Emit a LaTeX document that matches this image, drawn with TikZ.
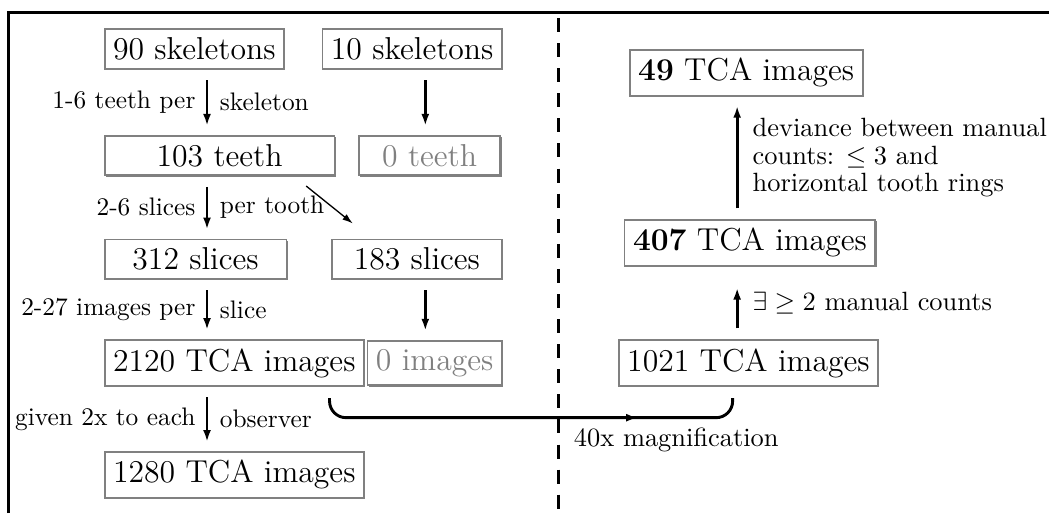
\documentclass[tikz,border=0pt]{standalone}
\usepackage{amsmath,amssymb}
\usepackage{tikz}
\usetikzlibrary{arrows.meta, positioning, calc, shadows, decorations.markings}

\begin{document}
\begin{tikzpicture}[font=\normalsize,
    stagebox/.style={draw=gray, line width=0.7pt, fill=white, inner sep=3.2pt, font=\large,
        drop shadow={shadow xshift=0.5pt, shadow yshift=-0.5pt, fill=gray, opacity=1}},
    emptybox/.style={stagebox, text=gray},
    steplabel/.style={font=\fontsize{9.6pt}{11pt}\selectfont},
    flow/.style={-{Latex[length=4.5pt,width=3pt]}, line width=1.1pt, shorten <=0.14cm, shorten >=0.12cm}]
    \useasboundingbox (0,0) rectangle (13.96,6.83);
    % frame and dashed split
    \draw[line width=1.1pt] (0.11,0) -- (0.11,6.66) -- (13.96,6.66);
    \draw[line width=1pt, dash pattern=on 5.3pt off 4.2pt] (7.43,6.59) -- (7.43,0);
    % left half
    \node[stagebox, anchor=west] (sk90) at (1.38,6.18) {90 skeletons};
    \node[stagebox, anchor=east] (sk10) at (6.69,6.18) {10 skeletons};
    \node[stagebox, anchor=west, minimum width=3.06cm] (teeth103) at (1.38,4.76) {103 teeth};
    \node[emptybox, anchor=east, minimum width=1.88cm] (teeth0) at (6.67,4.76) {0 teeth};
    \node[stagebox, anchor=west, minimum width=2.42cm] (slices312) at (1.38,3.38) {312 slices};
    \node[stagebox, anchor=east, minimum width=2.26cm] (slices183) at (6.69,3.38) {183 slices};
    \node[stagebox, anchor=west] (img2120) at (1.38,2.0) {2120 TCA images};
    \node[emptybox, anchor=east] (img0) at (6.69,2.0) {0 images};
    \node[stagebox, anchor=west] (img1280) at (1.38,0.51) {1280 TCA images};
    \coordinate (colL) at (2.755,0);
    \coordinate (colR) at (5.66,0);
    \draw[flow] (sk90.south -| colL) -- node[steplabel, left=0.5pt]{1-6 teeth per} node[steplabel, right=1pt]{skeleton} (teeth103.north -| colL);
    \draw[flow] (teeth103.south -| colL) -- node[steplabel, left=0.5pt]{2-6 slices} node[steplabel, right=1pt]{per tooth} (slices312.north -| colL);
    \draw[flow] (slices312.south -| colL) -- node[steplabel, left=0.5pt]{2-27 images per} node[steplabel, right=1pt]{slice} (img2120.north -| colL);
    \draw[flow] (img2120.south -| colL) -- node[steplabel, left=0.5pt]{given 2x to each} node[steplabel, right=1pt]{observer} (img1280.north -| colL);
    \draw[flow] (sk10.south -| colR) -- (teeth0.north -| colR);
    \draw[flow] (slices183.south -| colR) -- (img0.north -| colR);
    \draw[-{Latex[length=4pt,width=2.6pt]}, line width=0.5pt]
        ($(teeth103.south east)+(-0.39,-0.13)$) -- ($(slices183.north west)+(0.29,0.2)$);
    % right half
    \node[stagebox] (img49) at (9.93,5.86) {\textbf{49} TCA images};
    \node[stagebox] (img407) at (9.98,3.60) {\textbf{407} TCA images};
    \node[stagebox] (img1021) at (9.96,2.0) {1021 TCA images};
    \coordinate (colX) at (9.81,0);
    \draw[flow, shorten >=0.28cm] (img1021.north -| colX) -- node[right=2pt]{$\exists \geq 2$ manual counts} (img407.south -| colX);
    \draw[flow] (img407.north -| colX) -- node[right=2pt, align=left]{deviance between manual\\[-1.6pt]counts: $\leq 3$ and\\[-1.6pt]horizontal tooth rings} (img49.south -| colX);
    % across the split
    \draw[line width=1.1pt, rounded corners=0.22cm, postaction={decorate},
        decoration={markings, mark=at position 0.75 with {\arrow{Latex[length=4.5pt,width=3pt]}}}]
        ($(img2120.south east)+(-0.47,-0.15)$) -- ++(0,-0.26)
        -| node[pos=0.43, below]{40x magnification} ($(img1021.south)+(-0.21,-0.15)$);
\end{tikzpicture}
\end{document}
